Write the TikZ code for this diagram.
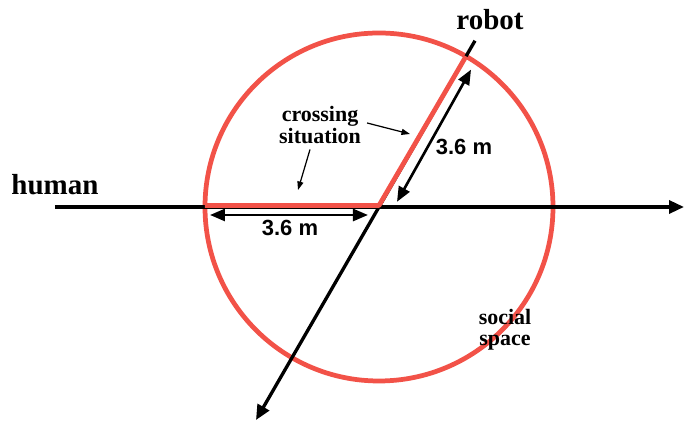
\documentclass[tikz,border=0pt]{standalone}
\usepackage{fontspec}
\setmainfont{Liberation Serif}
\setsansfont{Liberation Sans}
\usepackage{tikz}
\usetikzlibrary{positioning,arrows.meta,calc}
\definecolor{spacered}{RGB}{242,82,72}

\begin{document}
\begin{tikzpicture}[
    path/.style={line width=1.9pt, -{Triangle[length=0.3cm, width=0.26cm]}},
    dim/.style={line width=1.5pt, {Triangle[length=0.3cm, width=0.24cm]}-{Triangle[length=0.3cm, width=0.24cm]}},
    note/.style={line width=0.7pt, -{Triangle[length=0.17cm, width=0.12cm]}},
    agent/.style={font=\fontsize{16.5}{18}\selectfont\bfseries},
    label/.style={font=\fontsize{12.5}{14}\selectfont\bfseries, align=center},
    measure/.style={font=\fontsize{12.5}{14}\selectfont\sffamily\bfseries}
]
    \useasboundingbox (-7.58,-4.3) rectangle (6.1,4.14);

    % Crossing point and ends
    \coordinate (C) at (0,0);
    \coordinate (Hs) at (-6.48,0);
    \coordinate (He) at (6.1,0);
    \coordinate (Rs) at (60:3.84);
    \coordinate (Re) at (240:4.92);
    \coordinate (L) at ($(180:3.48)+(0,0.03)$);
    \coordinate (Cr) at (0,0.03);
    \coordinate (R) at (60:3.48);

    % Social space
    \draw[spacered, line width=2.7pt] (C) circle (3.48);

    % Paths of human and robot
    \draw[path] (Hs) -- (He);
    \draw[path] (Rs) -- (Re);

    % Crossing situation (red)
    \draw[spacered, line width=2.7pt, line join=round] (L) -- (Cr) -- (R);

    % Labels
    \node[agent] (human) at (-6.48,0.44) {human};
    \node[agent] (robot) at (2.22,3.74) {robot};
    \node[label] (cs) at (-1.18,1.64) {crossing\\[-2pt]situation};
    \node[label] (ss) at (2.52,-2.46) {social\\[-2pt]space};

    % Dimensions
    \coordinate (D1) at (-3.38,-0.16);
    \coordinate (D2) at (-0.22,-0.16);
    \coordinate (D3) at ($(60:0.27)+(-30:0.26)$);
    \coordinate (D4) at ($(60:3.3)+(-30:0.22)$);
    \draw[dim] (D1) -- (D2);
    \draw[dim] (D3) -- (D4);
    \node[measure] (m1) at (-1.78,-0.42) {3.6 m};
    \node[measure] (m2) at (1.70,1.20) {3.6 m};

    % Pointers to the crossing situation
    \coordinate (T1) at (0.62,1.46);
    \coordinate (T2) at (-1.62,0.34);
    \draw[note] ([yshift=0.04cm]cs.east) -- (T1);
    \draw[note] ([xshift=-0.2cm]cs.south) -- (T2);
\end{tikzpicture}
\end{document}
